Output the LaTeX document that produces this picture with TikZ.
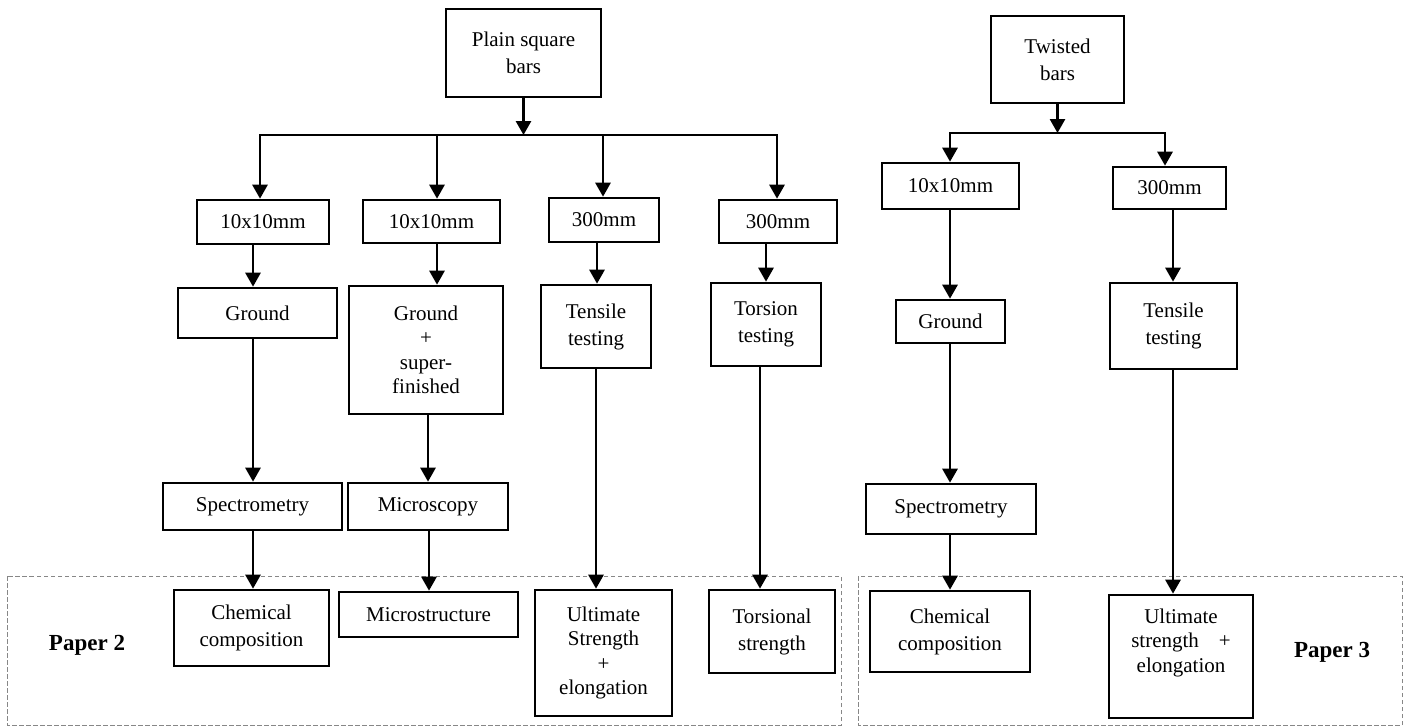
\documentclass[tikz,border=0pt]{standalone}
\usepackage{fontspec}
\setmainfont{Liberation Serif}
\usetikzlibrary{arrows.meta}
\begin{document}
\begin{tikzpicture}[x=1pt,y=-1pt,
  bx/.style={draw, line width=2.6pt, inner sep=2pt, align=center, font=\fontsize{21}{27}\selectfont},
  tight/.style={font=\fontsize{21}{24.5}\selectfont},
  sz/.style 2 args={minimum width=#1pt, minimum height=#2pt},
  arr/.style={line width=2.8pt, -{Triangle[width=15pt,length=14pt]}},
  arrb/.style={line width=2.8pt, {Triangle[width=15pt,length=14pt]}-{Triangle[width=15pt,length=14pt]}},
  region/.style={draw={rgb,255:red,135;green,135;blue,135}, line width=1pt, dash pattern=on 4.5pt off 2.5pt},
  paper/.style={font=\bfseries\fontsize{23}{27}\selectfont}]
\useasboundingbox (0,0) rectangle (1404,726);

% dashed regions
\draw[region] (7,576) rectangle (841,725);
\draw[region] (858,576) rectangle (1402,725);

% ---------- left tree ----------
\node[bx, sz={155}{88}] (A) at (523.5,53) {Plain square\\bars};
\node[bx, sz={132}{44}] (B1) at (263,222) {10x10mm};
\node[bx, sz={137}{43}] (B2) at (431.5,221.5) {10x10mm};
\node[bx, sz={110}{44}] (B3) at (604,220) {300mm};
\node[bx, sz={118}{43}] (B4) at (778,221.5) {300mm};
\node[bx, sz={159}{50}] (C1) at (257.5,313) {Ground};
\node[bx, tight, sz={154}{128}] (C2) at (426,350) {Ground\\+\\super-\\finished};
\node[bx, sz={110}{83}] (C3) at (596,326.5) {Tensile\\testing};
\node[bx, sz={110}{83}] (C4) at (766,324.5) {Torsion\\testing};
\node[bx, sz={179}{47}] (D1) at (252.5,506.5) {Spectrometry};
\node[bx, sz={160}{47}] (D2) at (428,506.5) {Microscopy};
\node[bx, sz={155}{76}] (E1) at (251.5,628) {Chemical\\composition};
\node[bx, sz={179}{45}] (E2) at (428.5,614.5) {Microstructure};
\node[bx, tight, sz={137}{126}] (E3) at (603.5,653) {Ultimate\\Strength\\+\\elongation};
\node[bx, sz={126}{83}] (E4) at (772,631.5) {Torsional\\strength};
\node[paper] (P2) at (87,645) {Paper 2};

\coordinate (jA) at (523.5,135);
\coordinate (bL1) at (260,135);
\coordinate (bL2) at (437,135);
\coordinate (bL3) at (603,135);
\coordinate (bL4) at (777,135);
\draw[arr] (A) -- (jA);
\draw[arrb] (bL1 |- B1.north) -- (bL1) -- (bL4) -- (bL4 |- B4.north);
\draw[arr] (bL2) -- (bL2 |- B2.north);
\draw[arr] (bL3) -- (bL3 |- B3.north);
\draw[arr] (B1.south -| 253,0) -- (C1.north -| 253,0);
\draw[arr] (B2.south -| 437,0) -- (C2.north -| 437,0);
\draw[arr] (B3.south -| 597,0) -- (C3.north -| 597,0);
\draw[arr] (B4.south -| 766,0) -- (C4.north -| 766,0);
\draw[arr] (C1.south -| 253,0) -- (D1.north -| 253,0);
\draw[arr] (C2.south -| 428,0) -- (D2.north -| 428,0);
\draw[arr] (C3.south -| 596,0) -- (E3.north -| 596,0);
\draw[arr] (C4.south -| 760,0) -- (E4.north -| 760,0);
\draw[arr] (D1.south -| 253,0) -- (E1.north -| 253,0);
\draw[arr] (D2.south -| 429,0) -- (E2.north -| 429,0);

% ---------- right tree ----------
\node[bx, sz={133}{87}] (F) at (1057.5,59.5) {Twisted\\bars};
\node[bx, sz={137}{46}] (G1) at (950.5,186) {10x10mm};
\node[bx, sz={113}{42}] (G2) at (1169.5,188) {300mm};
\node[bx, sz={109}{43}] (H1) at (950.5,321.5) {Ground};
\node[bx, sz={127}{86}] (H2) at (1173.5,326) {Tensile\\testing};
\node[bx, sz={170}{50}] (I1) at (951,509) {Spectrometry};
\node[bx, sz={160}{81}] (J1) at (950,631.5) {Chemical\\composition};
\node[bx, tight, sz={144}{123}] (J2) at (1181,656.5) {Ultimate\\strength\hspace{20pt}+\\elongation\\ \strut};
\node[paper] (P3) at (1332,652) {Paper 3};

\coordinate (jF) at (1057.5,133);
\coordinate (bR1) at (950,133);
\coordinate (bR2) at (1165,133);
\draw[arr] (F) -- (jF);
\draw[arrb] (bR1 |- G1.north) -- (bR1) -- (bR2) -- (bR2 |- G2.north);
\draw[arr] (G1.south -| 950,0) -- (H1.north -| 950,0);
\draw[arr] (G2.south -| 1173,0) -- (H2.north -| 1173,0);
\draw[arr] (H1.south -| 950,0) -- (I1.north -| 950,0);
\draw[arr] (I1.south -| 950,0) -- (J1.north -| 950,0);
\draw[arr] (H2.south -| 1173,0) -- (J2.north -| 1173,0);
\end{tikzpicture}
\end{document}
